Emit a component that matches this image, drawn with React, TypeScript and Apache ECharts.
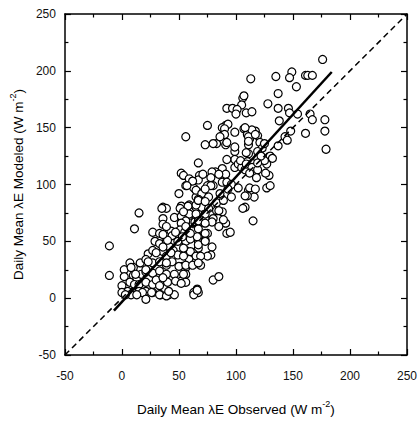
import React, { useEffect, useRef } from "react";
import * as echarts from "echarts";

const axisMin = -50;
const axisMax = 250;
const axisStep = 50;

// [observed, modeled] daily mean latent heat flux (W m-2)
const scatterPoints: [number, number][] = [
  [176,210],[149,199],[147,194],[135,195],[161,196],[163,196],[167,196],[153,186],[113,193],[137,180],
  [106,176],[107,178],[105,170],[128,171],[92,167],[97,167],[101,166],[109,163],[114,164],[100,162],
  [137,167],[146,167],[147,163],[154,162],[165,162],[167,157],[178,157],[178,147],[179,131],[161,145],
  [148,147],[138,156],[143,142],[145,139],[137,134],[130,125],[132,123],[127,118],[127,97],[130,99],
  [129,108],[117,110],[107,149],[110,144],[112,140],[111,135],[117,147],[119,143],[114,148],[121,137],
  [123,132],[119,129],[111,127],[99,129],[99,122],[99,115],[92,122],[91,135],[89,144],[91,152],
  [83,136],[80,136],[102,118],[105,115],[108,113],[117,118],[110,120],[115,119],[88,114],[91,109],
  [82,111],[79,111],[78,106],[80,99],[88,102],[111,95],[114,92],[116,89],[110,90],[96,89],
  [86,92],[75,152],[88,150],[93,153],[56,142],[73,135],[67,119],[52,110],[54,108],[59,105],
  [68,108],[67,104],[71,109],[56,99],[63,97],[67,93],[50,92],[65,89],[75,99],[72,90],
  [36,80],[52,81],
  [90,149],[99,146],[108,150],[111,142],[111,138],[90,144],[86,142],[92,137],[99,133],[109,128],[125,136],
  [104,121],[109,118],[119,123],[125,121],[122,125],[114,115],[119,113],[112,110],[126,110],[118,106],
  [85,109],[78,99],[92,102],[96,100],[93,96],[102,97],[62,103],
  [57,99],[65,95],[70,92],[73,96],[67,87],[76,89],[83,84],[89,86],[108,90],[112,97],[117,96],
  [39,79],[59,82],[65,80],[70,80],[76,79],[83,77],[88,76],[36,70],[46,71],[53,71],[60,73],[65,70],
  [73,70],[80,70],[79,67],[91,66],[108,80],[115,68],[117,144],[119,119],
  [89,69],[85,63],[92,57],[95,58],[75,57],[67,54],[62,57],[56,66],[53,68],[106,79],[85,77],
  [67,50],[73,51],[79,45],[78,38],[75,37],[67,44],[62,40],[56,42],[59,34],[65,32],[69,29],
  [56,27],[53,28],[56,21],[52,15],[56,14],[80,16],[85,19],[66,8],[63,5],
  [15,75],[35,79],[51,79],[58,81],[65,82],[67,86],[73,85],
  [36,65],[52,72],[59,74],[56,68],[52,66],[64,67],[67,71],[73,74],
  [11,61],
  [27,58],[33,57],[43,59],[44,55],[51,60],[55,58],[63,60],[67,61],[73,57],
  [29,50],[33,48],[39,50],[42,45],[49,50],[56,50],[60,52],[66,54],[67,47],[73,50],
  [23,39],[27,42],[36,41],[39,37],[45,42],[49,38],[54,37],[60,41],[65,37],[69,37],[54,44],
  [-11,46],
  [2,25],[7,31],[10,27],[16,31],[21,34],[27,31],[33,32],[39,29],[44,32],[50,28],[56,29],[62,29],[67,31],
  [-11,20],
  [2,19],[10,20],[13,18],[17,21],[21,23],[27,22],[33,24],[39,21],[46,21],[54,21],
  [0,11],[7,14],[11,12],[15,12],[21,14],[27,12],[33,14],[40,14],[47,15],
  [2,4],[10,5],[15,6],[21,6],[27,5],[34,3],[41,3],
  [67,5],[52,13],
  [5,6],[8,3],[0,5],[3,3],
  [8,27],[12,21],[23,32],[21,25],[30,40],[36,45],[40,51],[43,40],[39,31],
  [30,16],[36,18],[33,11],[26,5],[33,3],[39,2],[46,3],[41,6],
  [18,5],[13,3],[21,-1],
  [36,56],[39,63],[47,58],[56,63],[53,54],[60,57],[65,74],[54,76],[67,68],[73,66],
  [63,3],[66,7],
];

const fitLine: [number, number][] = [[-7, -11], [184, 199]];
const oneToOneLine: [number, number][] = [[-50, -50], [250, 250]];

const xTitle = "{base|Daily Mean λE Observed (W m}{sup|-2}{base|)}";
const yTitle = "{base|Daily Mean λE Modeled (W m}{sup|-2}{base|)}";

const FONT = "'Liberation Sans', Arial, Helvetica, sans-serif";

const titleRich = {
  base: { fontSize: 13.5, fontFamily: FONT, color: "#000", verticalAlign: "bottom", lineHeight: 17 },
  sup: { fontSize: 9, fontFamily: FONT, color: "#000", verticalAlign: "top", lineHeight: 9 },
};

function makeAxis(position: string, showLabels: boolean, name?: string, nameGap?: number, rotate?: number) {
  return {
    type: "value",
    position,
    min: axisMin,
    max: axisMax,
    interval: axisStep,
    name: name || "",
    nameLocation: "middle",
    nameGap: nameGap || 0,
    nameRotate: rotate,
    nameTextStyle: { rich: titleRich },
    axisLine: { show: true, onZero: false, lineStyle: { color: "#000", width: 1.5 } },
    axisTick: { show: true, inside: true, length: 6, lineStyle: { color: "#000", width: 1.2 } },
    minorTick: { show: true, splitNumber: 2, length: 3.5, lineStyle: { color: "#000", width: 1.2 } },
    axisLabel: {
      show: showLabels,
      fontSize: 12,
      fontFamily: FONT,
      color: "#111",
      margin: position === "bottom" ? 15 : 9,
    },
    splitLine: { show: false },
    minorSplitLine: { show: false },
  };
}

export default function App() {
  const ref = useRef<HTMLDivElement>(null);
  useEffect(() => {
    if (!ref.current) return;
    const chart = echarts.init(ref.current, undefined, { renderer: "svg" });
    chart.setOption({
      animation: false,
      backgroundColor: "#fff",
      grid: { left: 64.5, top: 14, right: 9.5, bottom: 61 },
      xAxis: [
        makeAxis("bottom", true, xTitle, 44),
        makeAxis("top", false),
      ],
      yAxis: [
        makeAxis("left", true, yTitle, 39, 90),
        makeAxis("right", false),
      ],
      series: [
        {
          type: "scatter",
          data: scatterPoints,
          symbol: "circle",
          symbolSize: 8,
          itemStyle: { color: "#fff", borderColor: "#000", borderWidth: 1.2, opacity: 1 },
          z: 2,
        },
        {
          type: "line",
          data: oneToOneLine,
          symbol: "none",
          lineStyle: { color: "#000", width: 1.5, type: [6, 4] },
          z: 3,
        },
        {
          type: "line",
          data: fitLine,
          symbol: "none",
          lineStyle: { color: "#000", width: 2.5 },
          z: 4,
        },
      ],
    });
    return () => chart.dispose();
  }, []);
  return (
    <div
      ref={ref}
      style={{ position: "fixed", left: 0, top: 0, width: 420, height: 421, background: "#fff" }}
    />
  );
}
